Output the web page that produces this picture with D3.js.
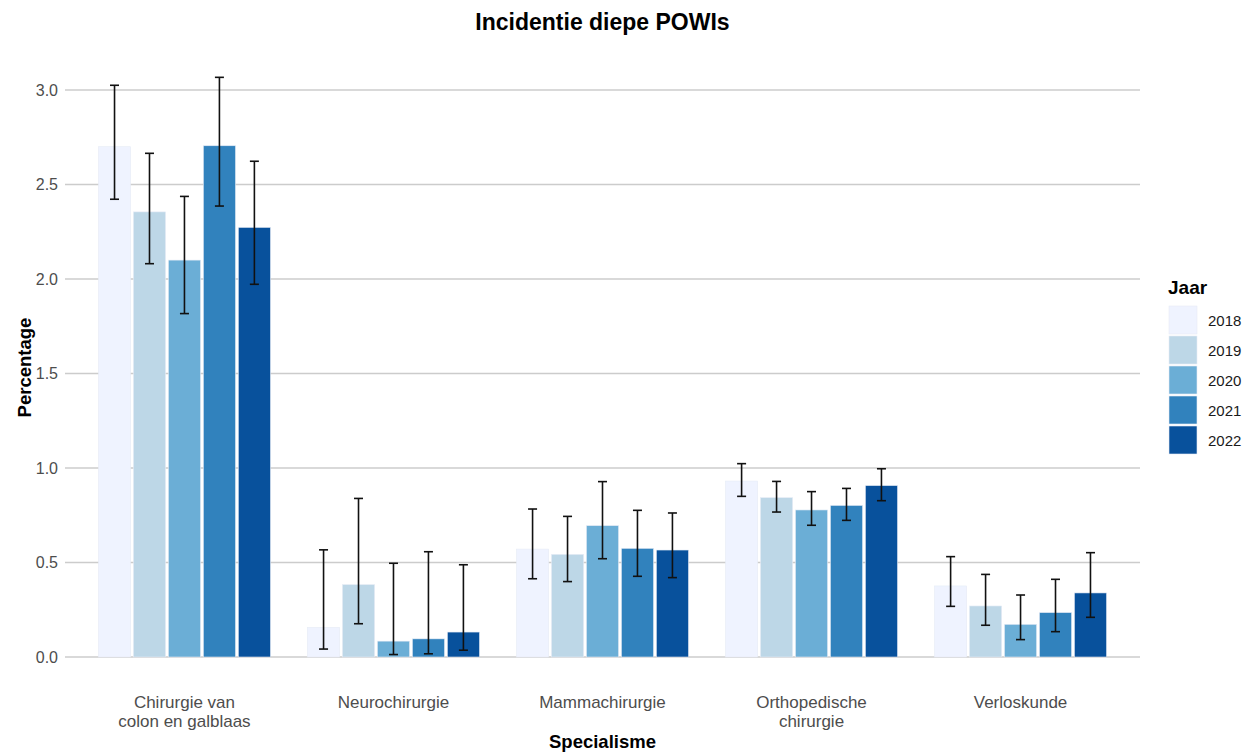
<!DOCTYPE html>
<html>
<head>
<meta charset="utf-8">
<script src="https://cdn.jsdelivr.net/npm/d3@7"></script>
<style>
	body { margin: 0; background: #fff; }
	svg text { font-family: "Liberation Sans", Arial, sans-serif; }
</style>
</head>
<body>
<svg id="chart" width="1245" height="753"></svg>
<script>
// data
const specialismen = ["Chirurgie van\ncolon en galblaas", "Neurochirurgie", "Mammachirurgie", "Orthopedische\nchirurgie", "Verloskunde"];
const jaren = ["2018", "2019", "2020", "2021", "2022"];
const kleuren = ["#eff3ff", "#bdd7e7", "#6baed6", "#3182bd", "#08519c"];

// percentage per specialisme (rows) per jaar (columns)
const percentage = [
	[2.70, 2.355, 2.10, 2.705, 2.273],
	[0.157, 0.383, 0.084, 0.096, 0.132],
	[0.571, 0.543, 0.695, 0.575, 0.566],
	[0.931, 0.843, 0.778, 0.802, 0.907],
	[0.376, 0.270, 0.173, 0.235, 0.339]
];
const ondergrens = [
	[2.422, 2.081, 1.817, 2.386, 1.972],
	[0.042, 0.176, 0.013, 0.017, 0.036],
	[0.414, 0.399, 0.520, 0.427, 0.420],
	[0.850, 0.767, 0.697, 0.723, 0.827],
	[0.268, 0.168, 0.092, 0.134, 0.210]
];
const bovengrens = [
	[3.025, 2.665, 2.437, 3.067, 2.623],
	[0.567, 0.839, 0.496, 0.557, 0.488],
	[0.783, 0.744, 0.928, 0.776, 0.762],
	[1.023, 0.929, 0.875, 0.892, 0.996],
	[0.531, 0.437, 0.328, 0.411, 0.552]
];
const yTicks = [0, 0.5, 1.0, 1.5, 2.0, 2.5, 3.0];

const svg = d3.select("#chart");
const margin = {left: 65, right: 1140};

const x = d3.scaleBand()
	.domain(specialismen)
	.range([margin.left, margin.right])
	.paddingInner(0.177)
	.paddingOuter(0.16);

const xJaar = d3.scaleBand()
	.domain(jaren)
	.range([0, x.bandwidth()])
	.paddingInner(0.08);

const y = d3.scaleLinear()
	.domain([0, 3.0])
	.range([657, 90]);

const kleur = d3.scaleOrdinal().domain(jaren).range(kleuren);

// gridlines
svg.append("g")
	.selectAll("line")
	.data(yTicks)
	.join("line")
	.attr("x1", margin.left)
	.attr("x2", margin.right)
	.attr("y1", d => y(d))
	.attr("y2", d => y(d))
	.attr("stroke", "#cccccc")
	.attr("stroke-width", 1.4);

// y axis labels
const yAxis = d3.axisLeft(y)
	.tickValues(yTicks)
	.tickFormat(d3.format(".1f"))
	.tickSize(0)
	.tickPadding(7);

svg.append("g")
	.attr("transform", `translate(${margin.left},0)`)
	.call(yAxis)
	.call(g => g.select(".domain").remove())
	.selectAll("text")
	.attr("fill", "#4d4d4d")
	.style("font-size", "16px");

// rows -> bars
const rijen = specialismen.map((s, i) => jaren.map((j, k) => ({
	spec: s, jaar: j,
	waarde: percentage[i][k],
	laag: ondergrens[i][k],
	hoog: bovengrens[i][k]
})));

const groep = svg.append("g")
	.selectAll("g.groep")
	.data(rijen)
	.join("g")
	.attr("class", "groep")
	.attr("transform", d => `translate(${x(d[0].spec)},0)`);

groep.selectAll("rect")
	.data(d => d)
	.join("rect")
	.attr("x", d => xJaar(d.jaar))
	.attr("width", xJaar.bandwidth())
	.attr("y", d => y(d.waarde))
	.attr("height", d => y(0) - y(d.waarde))
	.attr("fill", d => kleur(d.jaar))
	.attr("stroke", "#e6ecf6")
	.attr("stroke-width", 0.6);

// error bars
const capHalf = 4.5;
const fout = groep.selectAll("g.fout")
	.data(d => d)
	.join("g")
	.attr("class", "fout")
	.attr("stroke", "#111")
	.attr("stroke-width", 1.6);

fout.append("line")
	.attr("x1", d => xJaar(d.jaar) + xJaar.bandwidth() / 2)
	.attr("x2", d => xJaar(d.jaar) + xJaar.bandwidth() / 2)
	.attr("y1", d => y(d.laag))
	.attr("y2", d => y(d.hoog));

fout.selectAll("line.cap")
	.data(d => [d.laag, d.hoog].map(v => ({v, cx: xJaar(d.jaar) + xJaar.bandwidth() / 2})))
	.join("line")
	.attr("class", "cap")
	.attr("x1", d => d.cx - capHalf)
	.attr("x2", d => d.cx + capHalf)
	.attr("y1", d => y(d.v))
	.attr("y2", d => y(d.v));

// x labels
svg.append("g")
	.selectAll("text")
	.data(specialismen)
	.join("text")
	.attr("x", d => x(d) + x.bandwidth() / 2)
	.attr("y", 708)
	.attr("text-anchor", "middle")
	.attr("fill", "#4d4d4d")
	.style("font-size", "17px")
	.selectAll("tspan")
	.data(d => d.split("\n"))
	.join("tspan")
	.attr("x", function () { return d3.select(this.parentNode).attr("x"); })
	.attr("dy", (d, i) => i === 0 ? 0 : 19)
	.text(d => d);

// titles
svg.append("text")
	.attr("x", (margin.left + margin.right) / 2)
	.attr("y", 30)
	.attr("text-anchor", "middle")
	.style("font-size", "23px")
	.style("font-weight", "bold")
	.text("Incidentie diepe POWIs");

svg.append("text")
	.attr("x", (margin.left + margin.right) / 2)
	.attr("y", 748)
	.attr("text-anchor", "middle")
	.style("font-size", "18.5px")
	.style("font-weight", "bold")
	.text("Specialisme");

svg.append("text")
	.attr("transform", `translate(31,${(90 + 657) / 2 - 6}) rotate(-90)`)
	.attr("text-anchor", "middle")
	.style("font-size", "18.5px")
	.style("font-weight", "bold")
	.text("Percentage");

// legend
const legenda = svg.append("g").attr("transform", "translate(1168,0)");
legenda.append("text")
	.attr("x", 0)
	.attr("y", 294)
	.style("font-size", "19px")
	.style("font-weight", "bold")
	.text("Jaar");

const item = legenda.selectAll("g.item")
	.data(jaren)
	.join("g")
	.attr("class", "item")
	.attr("transform", (d, i) => `translate(0,${306 + i * 30})`);

item.append("rect")
	.attr("x", 1)
	.attr("width", 28)
	.attr("height", 28)
	.attr("fill", d => kleur(d))
	.attr("stroke", "#e6ecf6")
	.attr("stroke-width", 0.6);

item.append("text")
	.attr("x", 40)
	.attr("y", 20)
	.attr("fill", "#1a1a1a")
	.style("font-size", "15px")
	.text(d => d);
</script>
</body>
</html>
